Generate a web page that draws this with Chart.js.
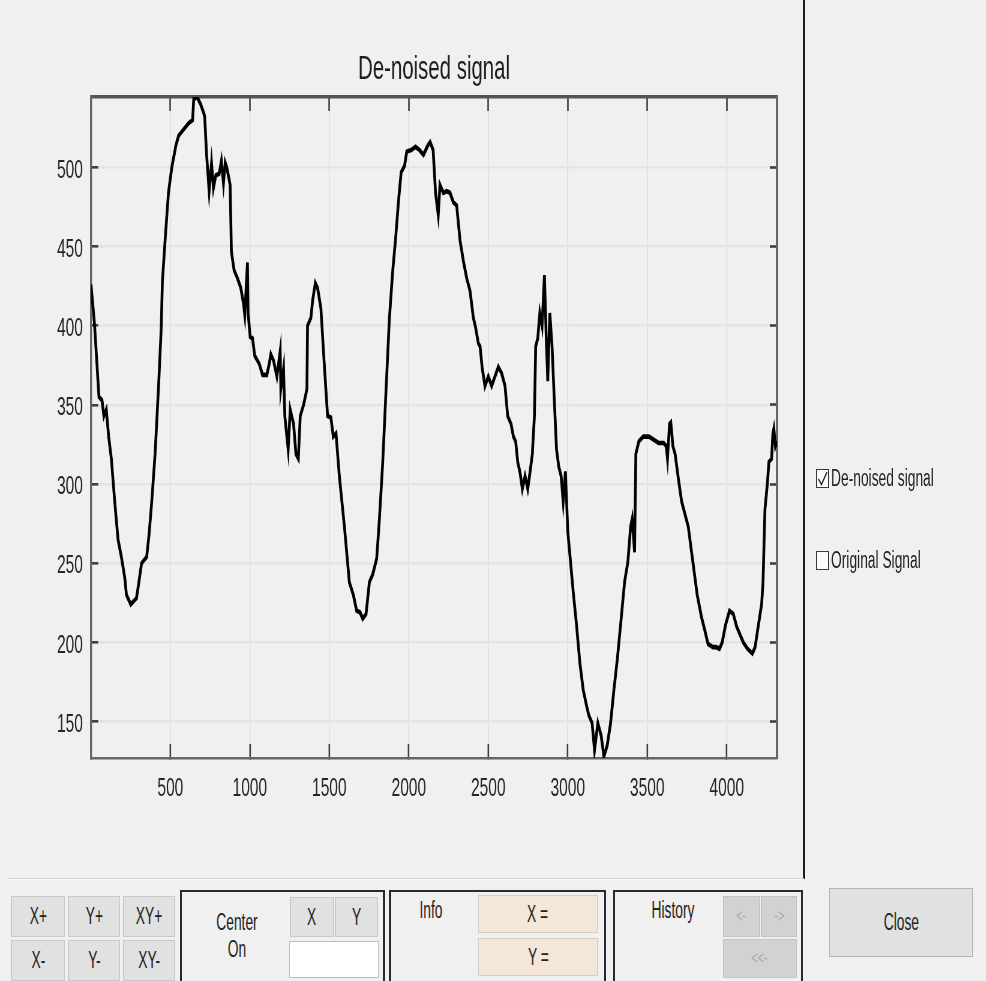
<!DOCTYPE html>
<html>
<head>
<meta charset="utf-8">
<script src="https://cdn.jsdelivr.net/npm/chart.js@4.4.1/dist/chart.umd.min.js"></script>
<style>
  html, body { margin:0; padding:0; }
  body { width:986px; height:981px; overflow:hidden; position:relative; background:#f0f0f0;
         font-family:"Liberation Sans", Arial, sans-serif; color:#222; }
  #wrap { position:absolute; left:0; top:0; width:1447px; height:860px; transform:scaleX(0.6); transform-origin:0 0; }
  .abs { position:absolute; box-sizing:border-box; }
  .btn { position:absolute; box-sizing:border-box; background:#e1e1e1; border:1px solid #c9c9c9;
         display:flex; align-items:center; justify-content:center; font-size:23px; }
  .dis { background:#d2d2d2; color:#a9a9a9; border:1px solid #c4c4c4; }
  .fld { position:absolute; box-sizing:border-box; background:#f4e7da; border:1px solid #d8cdc2;
         display:flex; align-items:center; justify-content:center; font-size:23px; }
  .panel { position:absolute; box-sizing:border-box; border:2px solid #2a2a2a; border-bottom:none; }
  .t { display:inline-block; transform:scaleX(0.6); white-space:nowrap; }
  .lbl { position:absolute; font-size:23px; transform:translate(-50%,-50%); white-space:nowrap; }
  .cb { position:absolute; box-sizing:border-box; width:13px; height:19px; border:1px solid #3a3a3a; background:#fbfbfb; }
</style>
</head>
<body>
<div id="wrap"><canvas id="c" width="1447" height="860"></canvas></div>

<!-- frame lines -->
<div class="abs" style="left:803px;top:0;width:2px;height:879px;background:#1e1e1e"></div>
<div class="abs" style="left:8px;top:878px;width:796px;height:1px;background:#cfcfcf"></div>
<div class="abs" style="left:8px;top:879px;width:796px;height:1px;background:#fafafa"></div>

<!-- legend checkboxes -->
<div class="cb" style="left:816px;top:469px">
  <svg width="11" height="17" style="position:absolute;left:0;top:0"><polyline points="1.5,9 4.5,14.5 10,2" fill="none" stroke="#222" stroke-width="1.3"/></svg>
</div>
<div class="abs" style="left:831px;top:465px;font-size:23px;line-height:26px"><span class="t" style="transform-origin:0 50%">De-noised signal</span></div>
<div class="cb" style="left:816px;top:551px"></div>
<div class="abs" style="left:831px;top:547px;font-size:23px;line-height:26px"><span class="t" style="transform-origin:0 50%">Original Signal</span></div>

<!-- zoom buttons -->
<div class="btn" style="left:11px;top:896px;width:54px;height:41px"><span class="t">X+</span></div>
<div class="btn" style="left:68px;top:896px;width:52px;height:41px"><span class="t">Y+</span></div>
<div class="btn" style="left:123px;top:896px;width:52px;height:41px"><span class="t">XY+</span></div>
<div class="btn" style="left:11px;top:940px;width:54px;height:41px"><span class="t">X-</span></div>
<div class="btn" style="left:68px;top:940px;width:52px;height:41px"><span class="t">Y-</span></div>
<div class="btn" style="left:123px;top:940px;width:52px;height:41px"><span class="t">XY-</span></div>

<!-- Center On panel -->
<div class="panel" style="left:180px;top:890px;width:205px;height:91px"></div>
<div class="lbl" style="left:237px;top:922px"><span class="t">Center</span></div>
<div class="lbl" style="left:237px;top:949px"><span class="t">On</span></div>
<div class="btn" style="left:290px;top:897px;width:44px;height:40px"><span class="t">X</span></div>
<div class="btn" style="left:335px;top:897px;width:43px;height:40px"><span class="t">Y</span></div>
<div class="abs" style="left:289px;top:941px;width:90px;height:37px;background:#ffffff;border:1px solid #c0c0c0"></div>

<!-- Info panel -->
<div class="panel" style="left:389px;top:890px;width:217px;height:91px"></div>
<div class="lbl" style="left:431px;top:910px"><span class="t">Info</span></div>
<div class="fld" style="left:478px;top:895px;width:120px;height:38px"><span class="t">X =</span></div>
<div class="fld" style="left:478px;top:938px;width:120px;height:38px"><span class="t">Y =</span></div>

<!-- History panel -->
<div class="panel" style="left:613px;top:890px;width:190px;height:91px"></div>
<div class="lbl" style="left:673px;top:910px"><span class="t">History</span></div>
<div class="btn dis" style="left:723px;top:896px;width:37px;height:41px;font-size:18px"><span class="t">&lt;-</span></div>
<div class="btn dis" style="left:761px;top:896px;width:36px;height:41px;font-size:18px"><span class="t">-&gt;</span></div>
<div class="btn dis" style="left:723px;top:939px;width:74px;height:39px;font-size:18px"><span class="t">&lt;&lt;-</span></div>

<!-- Close -->
<div class="btn" style="left:829px;top:888px;width:144px;height:69px;border:1px solid #b5b5b5"><span class="t">Close</span></div>

<script>
// ---- data ----
const sampleIndex = [
  1,23,40,51,70,82,97,112,129,150,171,192,213,224,251,287,302,319,351,366,383,404,425,442,450,467,488,509,535,552,583,615,640,647,668,690,
  711,716,728,744,759,771,786,807,821,834,845,855,876,884,901,922,943,960,968,985,989,1002,1017,1031,1059,1080,1107,1122,1132,1149,1170,1191,1195,1212,1220,1241,1254,1275,1290,1305,1317,1338,1359,1363,1384,1395,
  1412,1426,1447,1468,1489,1510,1525,1542,1563,1595,1626,1651,1672,1693,1710,1731,1752,1773,1798,1815,1836,1857,1878,1899,1916,1937,1952,1973,1987,2015,2042,2067,2092,2120,2134,
  2153,2168,2185,2196,2217,2238,2259,2280,2301,2322,2343,2364,2385,2406,2420,2437,2448,2462,2479,2500,2521,2542,2563,2584,2605,2622,2643,2658,2672,2685,2700,2714,2731,2748,2763,2777,2790,2798,2811,
  2824,2838,2853,2866,2874,2887,2901,2916,2929,2943,2958,2971,2985,3000,3017,3034,3055,3076,3097,3118,3132,3153,3168,3189,3210,3227,3248,3269,3290,3311,3332,3357,3378,3395,3405,3420,3428,3447,3475,3510,3542,
  3571,3603,3619,3627,3640,3648,3661,3675,3696,3716,3737,3758,3772,3793,3814,3841,3861,3882,3913,3934,3954,3971,3992,4017,4041,4062,4083,4104,4130,4161,4178,4199,4219,4228,4240,4255,4265,4282,4290,4296,4306,4316
];
const denoised = [
  426,401,373,355,353,343,347,330,316,289,265,254,241,230,224,228,238,250,254,268,289,319,360,397,428,454,484,500,514,520,524,528,530,543,544.5,540,
  534,532,508,485,503,487,495,496,504,490,503,500,489,447,435,430,424,414,407,440,408,393,392,381,376,369,369,376,382,378,368,384,360,373,343,322,347,338,319,316,343,350,360,400,405,416,
  427,424,411,376,343,342,330,332,305,273,238,230,220,219,215,218,238,243,253,278,314,360,405,435,454,481,497,501,510,511,513,511,508,514,516,
  511,484,470,489,484,485,484,478,476,454,441,430,422,405,399,389,387,373,362,368,362,368,374,370,362,343,338,330,327,314,307,297,305,297,308,319,343,387,392,
  408,400,432,387,365,408,387,351,322,311,305,289,308,270,251,232,211,187,170,160,154,149,132,149,141,128,135,149,170,189,211,238,251,273,278,257,319,327,330,330,328,
  326,326,324,316,338,339,324,319,303,289,281,273,262,246,230,216,208,199,197,197,196,200,211,220,218,210,205,200,196,193,197,211,224,238,284,300,314,316,332,335,324,327
];
const xTicks = [500, 1000, 1500, 2000, 2500, 3000, 3500, 4000];
const yTicks = [150, 200, 250, 300, 350, 400, 450, 500];
const xRange = [1, 4316];
const yRange = [127, 544.5];
const titleText = 'De-noised signal';

const points = sampleIndex.map((x, i) => ({ x: x, y: denoised[i] }));
const setTicks = list => (s => { s.ticks = list.map(v => ({ value: v })); });
const plain = v => String(v);
const FONT = '"Liberation Sans", Arial, sans-serif';

new Chart(document.getElementById('c'), {
  type: 'line',
  data: {
    datasets: [{
      label: 'De-noised signal',
      data: points,
      borderColor: '#000000',
      borderWidth: 4.6,
      pointRadius: 0,
      tension: 0,
      fill: false
    }]
  },
  options: {
    responsive: false,
    animation: false,
    events: [],
    layout: { padding: { left: 0, right: 152, top: 0, bottom: 0 } },
    plugins: {
      legend: { display: false },
      tooltip: { enabled: false },
      title: {
        display: true,
        text: titleText,
        fullSize: false,
        color: '#1e1e1e',
        font: { family: FONT, size: 34, weight: 'normal', lineHeight: 1.2 },
        padding: { top: 49.6, bottom: 6.6 }
      }
    },
    scales: {
      x: {
        type: 'linear', position: 'bottom',
        min: xRange[0], max: xRange[1],
        afterBuildTicks: setTicks(xTicks),
        afterFit: s => { s.height = 102; },
        ticks: { callback: plain, color: '#262626', padding: 29.7, maxRotation: 0, autoSkip: false,
                 font: { family: FONT, size: 26 } },
        grid: { color: '#dedede', lineWidth: 1.7, tickLength: -14, tickColor: '#404040', tickWidth: 2.6 },
        border: { display: true, color: '#666666', width: 2.6 }
      },
      x2: {
        type: 'linear', position: 'top',
        min: xRange[0], max: xRange[1],
        afterBuildTicks: setTicks(xTicks),
        afterFit: s => { s.height = 0; },
        ticks: { display: false },
        grid: { drawOnChartArea: false, tickLength: -14, tickColor: '#404040', tickWidth: 2.6 },
        border: { display: true, color: '#555555', width: 3.6 }
      },
      y: {
        type: 'linear', position: 'left',
        min: yRange[0], max: yRange[1],
        afterBuildTicks: setTicks(yTicks),
        afterFit: s => { s.width = 151.67; },
        ticks: { callback: plain, color: '#262626', padding: 25.4, labelOffset: 3, autoSkip: false,
                 font: { family: FONT, size: 26 } },
        grid: { color: '#e4e4e4', lineWidth: 2.6, tickLength: -12, tickColor: '#404040', tickWidth: 2.6 },
        border: { display: true, color: '#666666', width: 3.4 }
      },
      y2: {
        type: 'linear', position: 'right',
        min: yRange[0], max: yRange[1],
        afterBuildTicks: setTicks(yTicks),
        afterFit: s => { s.width = 0; },
        ticks: { display: false },
        grid: { drawOnChartArea: false, tickLength: -12, tickColor: '#404040', tickWidth: 2.6 },
        border: { display: true, color: '#666666', width: 4 }
      }
    }
  }
});
</script>
</body>
</html>
